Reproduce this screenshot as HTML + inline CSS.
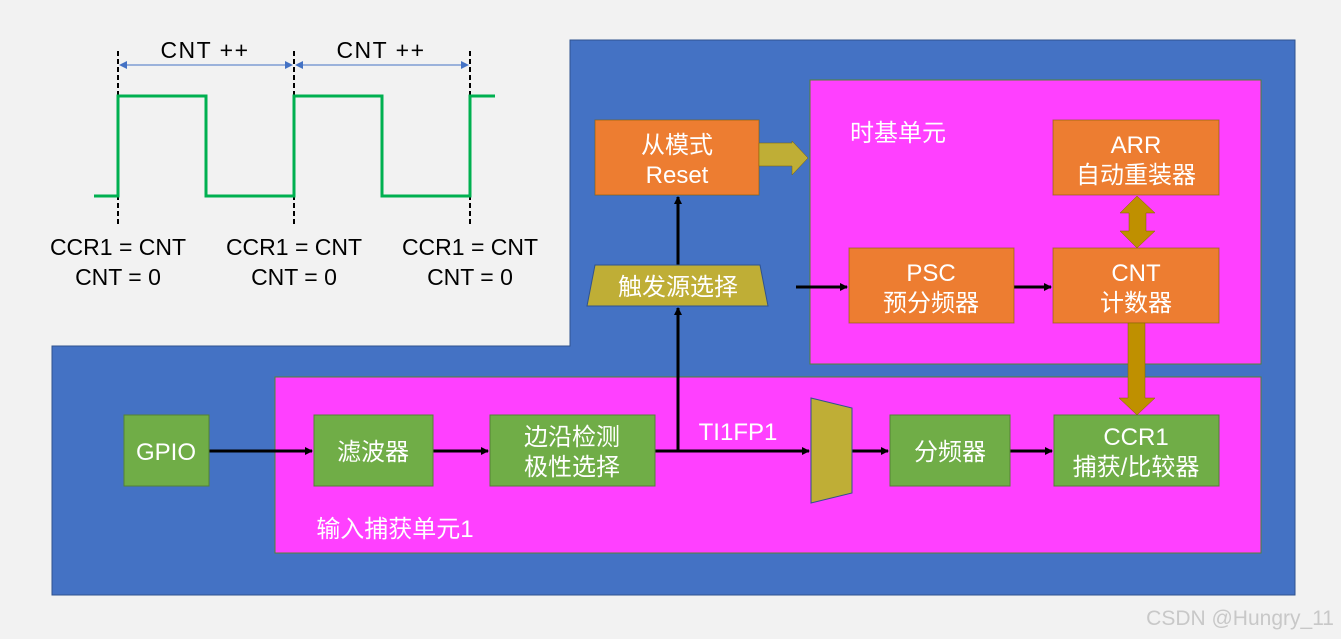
<!DOCTYPE html>
<html><head><meta charset="utf-8"><style>
body{margin:0;background:#f2f2f2;}
svg{display:block;font-family:"Liberation Sans","Noto Sans CJK SC",sans-serif;}
</style></head><body>
<svg width="1341" height="639" viewBox="0 0 1341 639">
<defs><marker id="a" markerWidth="8" markerHeight="8" refX="7" refY="4" orient="auto" markerUnits="userSpaceOnUse"><path d="M0,0 L8,4 L0,8 z" fill="#000"/></marker>
<marker id="b" markerWidth="8" markerHeight="8" refX="7" refY="4" orient="auto-start-reverse" markerUnits="userSpaceOnUse"><path d="M0,0 L8,4 L0,8 z" fill="#4472c4"/></marker></defs>
<rect width="1341" height="639" fill="#f2f2f2"/>
<path d="M570,40 H1295 V595 H52 V346 H570 Z" fill="#4472c4" stroke="#2f528f" stroke-width="1"/>
<rect x="810" y="80" width="451" height="284" fill="#ff40ff" stroke="#548235"/>
<rect x="275" y="377" width="986" height="176" fill="#ff40ff" stroke="#548235"/>
<!-- waveform -->
<g stroke="#000" stroke-width="2" stroke-dasharray="5,3"><line x1="118" y1="51" x2="118" y2="225"/><line x1="294" y1="51" x2="294" y2="225"/><line x1="470" y1="51" x2="470" y2="225"/></g>
<polyline points="94,196 118,196 118,96 206,96 206,196 294,196 294,96 382,96 382,196 470,196 470,96 495,96" fill="none" stroke="#00b050" stroke-width="3"/>
<line x1="120" y1="65" x2="292" y2="65" stroke="#4472c4" marker-start="url(#b)" marker-end="url(#b)"/>
<line x1="296" y1="65" x2="468" y2="65" stroke="#4472c4" marker-start="url(#b)" marker-end="url(#b)"/>
<g font-size="23" fill="#000" text-anchor="middle"><text x="205" y="58" letter-spacing="1.5">CNT ++</text><text x="381" y="58" letter-spacing="1.5">CNT ++</text>
<text x="118" y="255">CCR1 = CNT</text><text x="118" y="285">CNT = 0</text>
<text x="294" y="255">CCR1 = CNT</text><text x="294" y="285">CNT = 0</text>
<text x="470" y="255">CCR1 = CNT</text><text x="470" y="285">CNT = 0</text></g>
<!-- wires -->
<g stroke="#000" stroke-width="3" fill="none">
<line x1="209" y1="451" x2="312" y2="451" marker-end="url(#a)"/>
<line x1="433" y1="451" x2="488" y2="451" marker-end="url(#a)"/>
<line x1="655" y1="451" x2="809" y2="451" marker-end="url(#a)"/>
<line x1="852" y1="451" x2="888" y2="451" marker-end="url(#a)"/>
<line x1="1010" y1="451" x2="1052" y2="451" marker-end="url(#a)"/>
<line x1="678" y1="451" x2="678" y2="308" marker-end="url(#a)"/>
<line x1="678" y1="265" x2="678" y2="197" marker-end="url(#a)"/>
<line x1="796" y1="287" x2="847" y2="287" marker-end="url(#a)"/>
<line x1="1014" y1="287" x2="1051" y2="287" marker-end="url(#a)"/>
</g>
<!-- boxes -->
<g stroke="#548235" fill="#70ad47"><rect x="124" y="415" width="85" height="71"/><rect x="314" y="415" width="119" height="71"/><rect x="490" y="415" width="165" height="71"/><rect x="890" y="415" width="120" height="71"/><rect x="1054" y="415" width="165" height="71"/></g>
<g stroke="#7f6000" fill="#ed7d31" stroke-opacity=".6"><rect x="595" y="120" width="164" height="75"/><rect x="1053" y="120" width="166" height="75"/><rect x="849" y="248" width="165" height="75"/><rect x="1053" y="248" width="166" height="75"/></g>
<polygon points="595,265 760,265 768,306 587,306" fill="#bfae36" stroke="#2f528f"/>
<polygon points="811,398 852,408 852,493 811,503" fill="#bfae36" stroke="#2f528f"/>
<polygon points="759,143 792,143 792,141 808,158 792,175 792,166 759,166" fill="#bfae36" stroke="#7f6000" stroke-width=".5"/>
<polygon points="1137,196 1155,213 1146,213 1146,231 1155,231 1137,248 1120,231 1129,231 1129,213 1120,213" fill="#bf9000" stroke="#7f6000" stroke-width=".5"/>
<polygon points="1128,323 1145,323 1145,398 1155,398 1137,415 1119,398 1128,398" fill="#bf9000" stroke="#7f6000" stroke-width=".5"/>
<g fill="#fff" font-size="24" text-anchor="middle">
<text x="166" y="460">GPIO</text><text x="373" y="460">滤波器</text>
<text x="572" y="445">边沿检测</text><text x="572" y="475">极性选择</text>
<text x="950" y="460">分频器</text>
<text x="1136" y="445">CCR1</text><text x="1136" y="475">捕获/比较器</text>
<text x="677" y="153">从模式</text><text x="677" y="183">Reset</text>
<text x="1136" y="153">ARR</text><text x="1136" y="183">自动重装器</text>
<text x="931" y="281">PSC</text><text x="931" y="311">预分频器</text>
<text x="1136" y="281">CNT</text><text x="1136" y="311">计数器</text>
<text x="678" y="295">触发源选择</text>
<text x="738" y="440">TI1FP1</text>
<text x="898" y="141">时基单元</text>
<text x="395" y="537">输入捕获单元1</text>
</g>
<text x="1334" y="625" font-size="21" fill="#c8c8c8" text-anchor="end">CSDN @Hungry_11</text>
</svg>
</body></html>
